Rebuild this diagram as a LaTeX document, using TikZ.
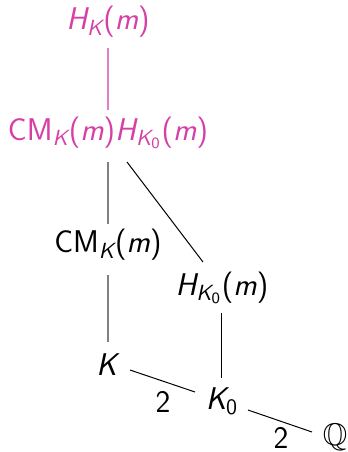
\documentclass[tikz,border=0pt]{standalone}
\usepackage{amsmath,amssymb}
\renewcommand{\familydefault}{\sfdefault}
\newcommand{\myit}[1]{\text{\sffamily\itshape #1}}
\newcommand{\myup}[1]{\text{\sffamily\upshape #1}}
\definecolor{alertpink}{HTML}{D63FA5}
\definecolor{linepink}{HTML}{E07FC4}
\definecolor{linegray}{HTML}{808080}
\tikzset{
  lbl/.style={inner sep=0pt, font=\fontsize{15.7}{18}\selectfont\sffamily},
  hl/.style={lbl, text=alertpink},
  pinkline/.style={draw=linepink, line width=1pt},
  grayline/.style={draw=linegray, line width=1pt},
  thinline/.style={draw=black, line width=0.5pt},
  deg/.style={lbl}
}
\begin{document}
\begin{tikzpicture}[x=0.5pt,y=-0.5pt]
\useasboundingbox (0,0) rectangle (348,452);
\node[hl] (HK) at (108,22) {$\myit{H}_{\myit{K}}$(\textit{m})};
\node[hl] (top) at (108,133) {CM$_{\myit{K}}$(\textit{m})$\myit{H}_{\myit{K}_{\myup{0}}}$(\textit{m})};
\node[lbl] (CM) at (108,245) {CM$_{\myit{K}}$(\textit{m})};
\node[lbl] (HK0) at (222,288) {$\myit{H}_{\myit{K}_{\myup{0}}}$(\textit{m})};
\node[lbl] (K) at (108,365) {\textit{K}};
\node[lbl] (K0) at (222,401) {$\myit{K}_{\myup{0}}$};
\node[lbl] (Q) at (335,437) {$\mathbb{Q}$};
\coordinate (a1) at (108,48); \coordinate (a2) at (108,110);
\coordinate (b1) at (108,162); \coordinate (b2) at (108,224);
\coordinate (c1) at (127,162); \coordinate (c2) at (203,262);
\coordinate (d1) at (108,275); \coordinate (d2) at (108,342);
\coordinate (e1) at (222,313); \coordinate (e2) at (222,378);
\coordinate (f1) at (130,370); \coordinate (f2) at (195,392);
\coordinate (g1) at (248,410); \coordinate (g2) at (312,432);
\draw[pinkline] (a1) -- (a2);
\draw[grayline] (b1) -- (b2);
\draw[thinline] (c1) -- (c2);
\draw[grayline] (d1) -- (d2);
\draw[thinline] (e1) -- (e2);
\draw[thinline] (f1) -- (f2);
\draw[thinline] (g1) -- (g2);
\node[deg] (n1) at (163,402) {2};
\node[deg] (n2) at (281,438) {2};
\end{tikzpicture}
\end{document}
